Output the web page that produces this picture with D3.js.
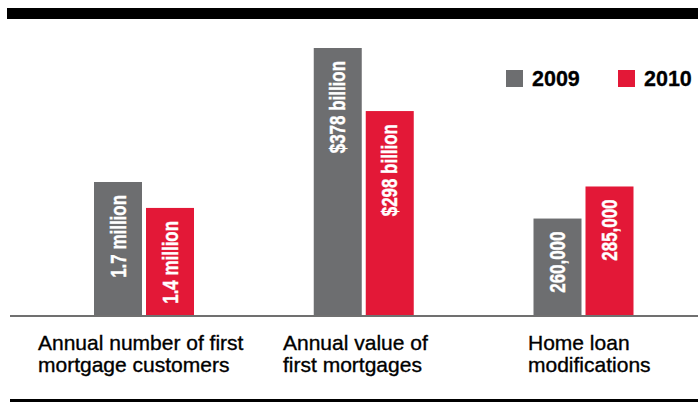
<!DOCTYPE html>
<html><head><meta charset="utf-8">
<script src="https://cdn.jsdelivr.net/npm/d3@7"></script>
<style>
html,body{margin:0;padding:0;background:#fff;}
svg{display:block;}
</style></head>
<body>
<svg id="chart" width="698" height="402"></svg>
<script>
// ---- data ----
const categories = ["Annual number of first mortgage customers", "Annual value of first mortgages", "Home loan modifications"];
const categoryLines = [["Annual number of first", "mortgage customers"], ["Annual value of", "first mortgages"], ["Home loan", "modifications"]];
const years = ["2009", "2010"];
const values2009 = [1.7, 378, 260000];
const values2010 = [1.4, 298, 285000];
const labels2009 = ["1.7 million", "$378 billion", "260,000"];
const labels2010 = ["1.4 million", "$298 billion", "285,000"];
// each measure has its own (non-shared) value scale domain
const domainLow = [0.15, 38, 184000];
const domainHigh = [3.25, 378, 393000];

// ---- layout ----
const W = 698, H = 402;
const baseY = 316, topY = 48;
const barW = 48, barGap = 4;
const colors = {"2009": "#6d6e70", "2010": "#e31837"};

const svg = d3.select("#chart");

// top black rule
svg.append("rect").attr("x", 7).attr("y", 8).attr("width", W - 7).attr("height", 11).attr("fill", "#000");
// bottom rule
svg.append("rect").attr("x", 10).attr("y", 399).attr("width", W - 10).attr("height", 3).attr("fill", "#000");

const groupX = d3.scalePoint().domain(categories).range([144, 583.5]);
const labelX = d3.scalePoint().domain(categories).range([38, 528]);
const inner = d3.scaleBand().domain(years).range([-(barW + barGap / 2), barW + barGap / 2]).paddingInner(barGap / (barW + barGap));

const yScales = categories.map((c, i) => d3.scaleLinear().domain([domainLow[i], domainHigh[i]]).range([baseY, topY]));

const rows = [];
categories.forEach((c, i) => {
  rows.push({cat: c, i, year: "2009", value: values2009[i], label: labels2009[i]});
  rows.push({cat: c, i, year: "2010", value: values2010[i], label: labels2010[i]});
});

const g = svg.append("g");
g.selectAll("rect.bar").data(rows).join("rect")
  .attr("class", "bar")
  .attr("x", d => groupX(d.cat) + inner(d.year))
  .attr("width", inner.bandwidth())
  .attr("y", d => yScales[d.i](d.value))
  .attr("height", d => baseY - yScales[d.i](d.value))
  .attr("fill", d => colors[d.year]);

g.selectAll("text.blabel").data(rows).join("text")
  .attr("class", "blabel")
  .attr("transform", d => {
    const cx = groupX(d.cat) + inner(d.year) + inner.bandwidth() / 2 + 7.5;
    const ty = yScales[d.i](d.value) + 13;
    return `translate(${cx},${ty}) rotate(-90) scale(0.77,1)`;
  })
  .attr("text-anchor", "end")
  .attr("fill", "#fff")
  .attr("stroke", "#fff").attr("stroke-width", 0.4)
  .attr("font-family", "'Liberation Sans', Arial, sans-serif")
  .attr("font-weight", "bold")
  .attr("font-size", 22)
  .text(d => d.label);

// baseline
svg.append("rect").attr("x", 10).attr("y", 315).attr("width", W - 10).attr("height", 2).attr("fill", "#707070");

// category labels
categories.forEach((c, i) => {
  const t = svg.append("text")
    .attr("x", labelX(c)).attr("y", 350)
    .attr("font-family", "'Liberation Sans', Arial, sans-serif")
    .attr("font-size", 21)
    .attr("fill", "#000")
    .attr("stroke", "#000").attr("stroke-width", 0.35);
  categoryLines[i].forEach((line, k) => {
    t.append("tspan").attr("x", labelX(c)).attr("dy", k === 0 ? 0 : 21.5).text(line);
  });
});

// legend
const legX = d3.scalePoint().domain(years).range([506, 618]);
const leg = svg.selectAll("g.leg").data(years).join("g").attr("class", "leg")
  .attr("transform", d => `translate(${legX(d)},70)`);
leg.append("rect").attr("width", 17).attr("height", 17).attr("fill", d => colors[d]);
leg.append("text").attr("x", 26).attr("y", 16)
  .attr("font-family", "'Liberation Sans', Arial, sans-serif")
  .attr("font-weight", "bold").attr("font-size", 21.5).attr("fill", "#000")
  .attr("stroke", "#000").attr("stroke-width", 0.3)
  .text(d => d);
</script>
</body></html>
